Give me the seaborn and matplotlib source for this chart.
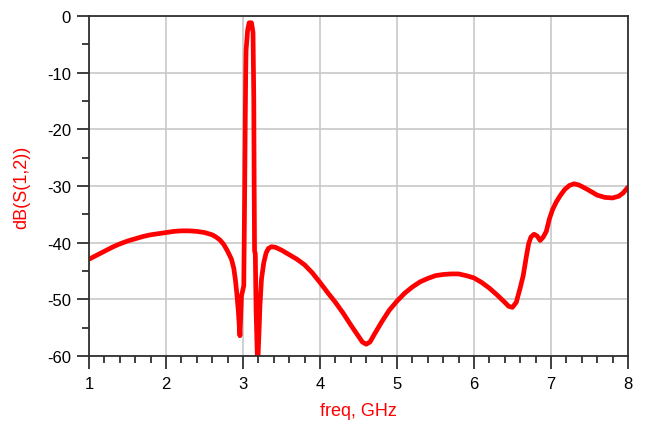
import matplotlib
matplotlib.use("Agg")
import matplotlib.pyplot as plt
from matplotlib.ticker import MultipleLocator
import seaborn as sns
import pandas as pd

freq_ghz = [1.00, 1.10, 1.20, 1.30, 1.40, 1.50, 1.60, 1.70, 1.80, 1.90, 2.00, 2.10, 2.20, 2.30, 2.40,
            2.50, 2.60, 2.65, 2.70, 2.75, 2.80, 2.85, 2.88, 2.90, 2.92, 2.94, 2.96,
            2.98, 3.01, 3.02, 3.03, 3.035, 3.04, 3.06, 3.08, 3.11, 3.13, 3.14, 3.145, 3.15,
            3.16, 3.17, 3.19, 3.21, 3.22, 3.24, 3.27, 3.30, 3.33, 3.37, 3.42, 3.50, 3.60,
            3.70, 3.80, 3.90, 4.00, 4.10, 4.20, 4.30, 4.40, 4.50, 4.55, 4.60, 4.65, 4.70,
            4.80, 4.90, 5.00, 5.10, 5.20, 5.30, 5.40, 5.50, 5.60, 5.70, 5.80, 5.90, 6.00,
            6.10, 6.20, 6.30, 6.40, 6.45, 6.50, 6.55, 6.60, 6.64, 6.68, 6.71, 6.74, 6.78,
            6.82, 6.86, 6.90, 6.94, 6.98, 7.02, 7.07, 7.12, 7.18, 7.24, 7.30, 7.36, 7.42,
            7.50, 7.60, 7.70, 7.80, 7.88, 7.94, 8.00]
s12_db = [-42.9, -42.2, -41.5, -40.8, -40.2, -39.7, -39.3, -38.9, -38.6, -38.4, -38.2, -38.0, -37.9, -37.9, -38.0,
          -38.2, -38.6, -39.0, -39.5, -40.3, -41.5, -42.9, -44.5, -46.4, -49.0, -52.2, -56.4,
          -49.4, -47.6, -33.5, -17.6, -10.2, -6.0, -2.5, -1.2, -1.2, -2.9, -14.6, -30.0, -41.4,
          -42.0, -52.0, -62.0, -55.0, -51.1, -46.4, -43.5, -41.8, -41.0, -40.7, -40.8, -41.3, -42.1,
          -42.9, -43.9, -45.3, -47.0, -48.8, -50.5, -52.4, -54.5, -56.5, -57.5, -57.9, -57.5, -56.3,
          -54.0, -51.9, -50.3, -48.9, -47.8, -46.9, -46.3, -45.8, -45.6, -45.5, -45.5, -45.8, -46.2,
          -47.0, -48.0, -49.2, -50.5, -51.2, -51.4, -50.5, -48.0, -45.8, -42.5, -40.2, -39.0, -38.5,
          -38.8, -39.6, -39.0, -38.0, -35.8, -34.2, -32.8, -31.7, -30.6, -29.9, -29.6, -29.8, -30.2,
          -30.8, -31.6, -32.0, -32.1, -31.8, -31.2, -30.2]

x_ticks = [1, 2, 3, 4, 5, 6, 7, 8]
y_ticks = [0, -10, -20, -30, -40, -50, -60]

df = pd.DataFrame({"freq": freq_ghz, "db": s12_db})

sns.set_style("white")
plt.rcParams["font.family"] = ["Liberation Sans", "DejaVu Sans"]
plt.rcParams["axes.unicode_minus"] = False

fig = plt.figure(figsize=(6.5, 4.35), dpi=100)
ax = fig.add_axes([0.137, 0.179, 0.829, 0.782])

sns.lineplot(data=df, x="freq", y="db", ax=ax, color="#ff0000", linewidth=3.4,
             sort=False, estimator=None, solid_joinstyle="round", solid_capstyle="round")

ax.set_xlim(1, 8)
ax.set_ylim(-60, 0)
ax.set_xticks(x_ticks)
ax.set_yticks(y_ticks)
ax.xaxis.set_minor_locator(MultipleLocator(0.2))
ax.yaxis.set_minor_locator(MultipleLocator(5))
ax.grid(True, which="major", color="#c8c8c8", linewidth=1.2)
ax.set_axisbelow(True)

for s in ax.spines.values():
    s.set_visible(True)
    s.set_color("#303030")
    s.set_linewidth(1.3)

ax.tick_params(axis="both", which="both", bottom=True, left=True, top=False, right=False)
ax.tick_params(axis="both", which="major", direction="out", length=9, width=1.3,
               color="#303030", labelsize=12, labelcolor="black", pad=4)
ax.tick_params(axis="both", which="minor", direction="out", length=5, width=1.3,
               color="#303030")
ax.tick_params(axis="x", which="major", pad=5)

ax.set_xlabel("freq, GHz", color="#ff0000", fontsize=13, labelpad=8)
ax.set_ylabel("dB(S(1,2))", color="#ff0000", fontsize=13, labelpad=12)

fig.savefig("out.png", dpi=100)
